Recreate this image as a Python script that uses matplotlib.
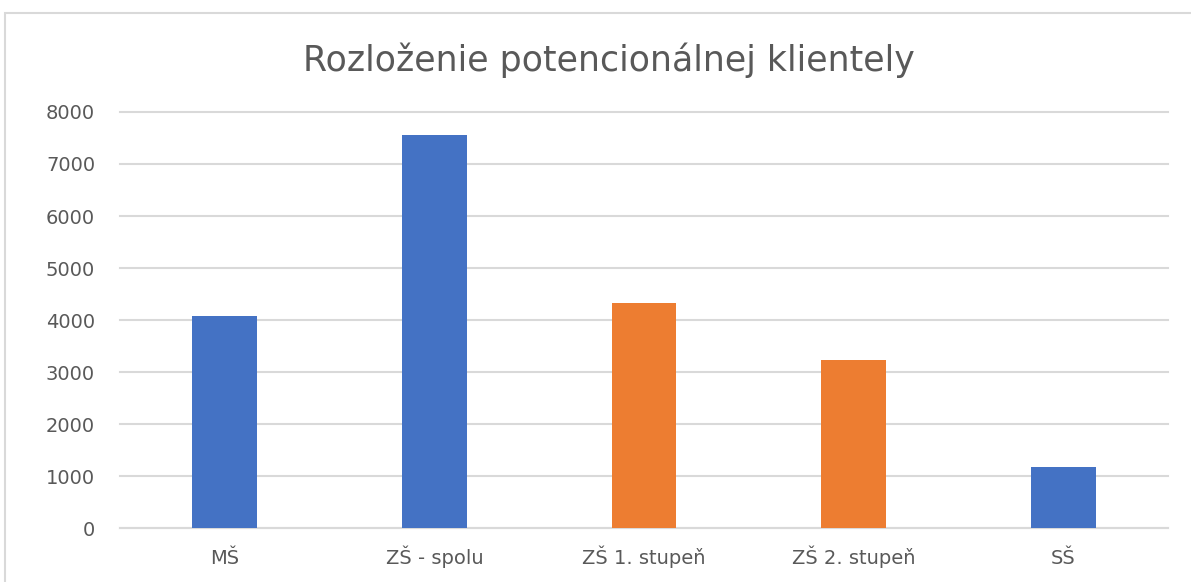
import matplotlib.pyplot as plt
from matplotlib.patches import Rectangle

categories = ["MŠ", "ZŠ - spolu", "ZŠ 1. stupeň", "ZŠ 2. stupeň", "SŠ"]
values = [4070, 7558, 4323, 3240, 1173]
colors = ["#4472c4", "#4472c4", "#ed7d31", "#ed7d31", "#4472c4"]
yticks = [0, 1000, 2000, 3000, 4000, 5000, 6000, 7000, 8000]

plt.rcParams['font.family'] = ['DejaVu Sans']

W, H = 1191, 582
fig = plt.figure(figsize=(W / 100, H / 100), dpi=100)
fig.patches.append(Rectangle((5 / W, -0.1), 1.2, (H - 13) / H + 0.1,
                             transform=fig.transFigure, fill=False,
                             edgecolor="#d9d9d9", linewidth=1.5))

ax = fig.add_axes([120 / W, (H - 528) / H, (1168 - 120) / W, (528 - 112) / H])
x = range(len(categories))
ax.bar(x, values, width=0.31, color=colors, zorder=3)
ax.set_xlim(-0.5, len(categories) - 0.5)
ax.set_ylim(0, 8000)
ax.set_yticks(yticks)
ax.set_xticks(list(x))
ax.set_xticklabels(categories, va="baseline")
ax.yaxis.grid(True, color="#d9d9d9", linewidth=1.5, zorder=0)
for gl in ax.get_ygridlines():
    gl.set_clip_on(False)
for s in ["top", "right", "left"]:
    ax.spines[s].set_visible(False)
ax.spines["bottom"].set_color("#d9d9d9")
ax.spines["bottom"].set_linewidth(1.5)
ax.tick_params(axis="both", length=0, labelsize=14, colors="#595959")
ax.tick_params(axis="y", pad=18)
ax.tick_params(axis="x", pad=26)

fig.text(609 / W, (H - 60) / H, "Rozloženie potencionálnej klientely",
         ha="center", va="center", fontsize=25, color="#595959")

fig.savefig("out.png", dpi=100)
